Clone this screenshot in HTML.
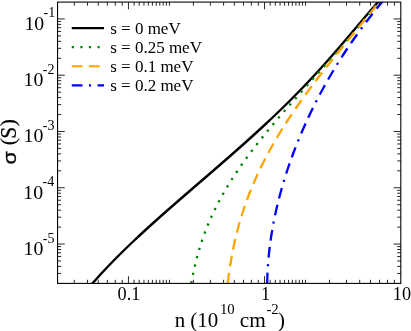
<!DOCTYPE html>
<html><head><meta charset="utf-8"><title>chart</title>
<style>html,body{margin:0;padding:0;background:#fff}svg{display:block;will-change:transform}text{font-family:"Liberation Serif",serif;fill:#000}.sans{font-family:"Liberation Sans",sans-serif}</style></head>
<body>
<svg width="411" height="331" viewBox="0 0 411 331">
<rect x="0" y="0" width="411" height="331" fill="#fff"/>
<defs><clipPath id="c"><rect x="57.55" y="2.10" width="343.25" height="281.31"/></clipPath></defs>
<g clip-path="url(#c)" fill="none" stroke-width="2.3" stroke-linejoin="round">
<path d="M86.84,290.00 L87.68,289.00 L88.53,288.00 L89.38,287.00 L90.23,286.00 L91.09,285.00 L91.96,284.00 L92.83,283.00 L93.71,282.00 L94.59,281.00 L95.48,280.00 L96.37,279.00 L97.27,278.00 L98.17,277.00 L99.07,276.00 L99.99,275.00 L100.90,274.00 L101.82,273.00 L102.75,272.00 L103.68,271.00 L104.62,270.00 L105.56,269.00 L106.50,268.00 L107.45,267.00 L108.41,266.00 L109.37,265.00 L110.33,264.00 L111.30,263.00 L112.27,262.00 L113.25,261.00 L114.23,260.00 L115.22,259.00 L116.21,258.00 L117.20,257.00 L118.20,256.00 L119.20,255.00 L120.21,254.00 L121.22,253.00 L122.24,252.00 L123.26,251.00 L124.28,250.00 L125.31,249.00 L126.34,248.00 L127.37,247.00 L128.41,246.00 L129.45,245.00 L130.50,244.00 L131.55,243.00 L132.60,242.00 L133.65,241.00 L134.71,240.00 L135.78,239.00 L136.84,238.00 L137.91,237.00 L138.99,236.00 L140.06,235.00 L141.14,234.00 L142.22,233.00 L143.31,232.00 L144.40,231.00 L145.49,230.00 L146.58,229.00 L147.68,228.00 L148.78,227.00 L149.88,226.00 L150.98,225.00 L152.09,224.00 L153.20,223.00 L154.31,222.00 L155.43,221.00 L156.55,220.00 L157.66,219.00 L158.79,218.00 L159.91,217.00 L161.04,216.00 L162.16,215.00 L163.29,214.00 L164.42,213.00 L165.56,212.00 L166.69,211.00 L167.83,210.00 L168.97,209.00 L170.11,208.00 L171.25,207.00 L172.39,206.00 L173.54,205.00 L174.68,204.00 L175.83,203.00 L176.98,202.00 L178.13,201.00 L179.28,200.00 L180.43,199.00 L181.58,198.00 L182.74,197.00 L183.89,196.00 L185.05,195.00 L186.20,194.00 L187.36,193.00 L188.52,192.00 L189.68,191.00 L190.83,190.00 L191.99,189.00 L193.15,188.00 L194.31,187.00 L195.47,186.00 L196.63,185.00 L197.79,184.00 L198.95,183.00 L200.12,182.00 L201.28,181.00 L202.44,180.00 L203.60,179.00 L204.76,178.00 L205.92,177.00 L207.08,176.00 L208.24,175.00 L209.39,174.00 L210.55,173.00 L211.71,172.00 L212.87,171.00 L214.02,170.00 L215.18,169.00 L216.33,168.00 L217.49,167.00 L218.64,166.00 L219.79,165.00 L220.95,164.00 L222.10,163.00 L223.25,162.00 L224.39,161.00 L225.54,160.00 L226.69,159.00 L227.83,158.00 L228.97,157.00 L230.12,156.00 L231.26,155.00 L232.40,154.00 L233.53,153.00 L234.67,152.00 L235.80,151.00 L236.93,150.00 L238.07,149.00 L239.19,148.00 L240.32,147.00 L241.45,146.00 L242.57,145.00 L243.69,144.00 L244.81,143.00 L245.93,142.00 L247.04,141.00 L248.16,140.00 L249.27,139.00 L250.38,138.00 L251.48,137.00 L252.59,136.00 L253.69,135.00 L254.79,134.00 L255.88,133.00 L256.98,132.00 L258.07,131.00 L259.16,130.00 L260.25,129.00 L261.33,128.00 L262.41,127.00 L263.49,126.00 L264.57,125.00 L265.64,124.00 L266.72,123.00 L267.78,122.00 L268.85,121.00 L269.91,120.00 L270.97,119.00 L272.03,118.00 L273.09,117.00 L274.14,116.00 L275.19,115.00 L276.23,114.00 L277.27,113.00 L278.31,112.00 L279.35,111.00 L280.38,110.00 L281.42,109.00 L282.44,108.00 L283.47,107.00 L284.49,106.00 L285.51,105.00 L286.52,104.00 L287.54,103.00 L288.55,102.00 L289.55,101.00 L290.56,100.00 L291.56,99.00 L292.55,98.00 L293.55,97.00 L294.54,96.00 L295.52,95.00 L296.51,94.00 L297.49,93.00 L298.47,92.00 L299.44,91.00 L300.42,90.00 L301.38,89.00 L302.35,88.00 L303.31,87.00 L304.27,86.00 L305.23,85.00 L306.18,84.00 L307.13,83.00 L308.08,82.00 L309.02,81.00 L309.97,80.00 L310.90,79.00 L311.84,78.00 L312.77,77.00 L313.70,76.00 L314.63,75.00 L315.55,74.00 L316.47,73.00 L317.39,72.00 L318.31,71.00 L319.22,70.00 L320.13,69.00 L321.04,68.00 L321.94,67.00 L322.84,66.00 L323.74,65.00 L324.64,64.00 L325.53,63.00 L326.43,62.00 L327.32,61.00 L328.20,60.00 L329.09,59.00 L329.97,58.00 L330.85,57.00 L331.73,56.00 L332.61,55.00 L333.48,54.00 L334.35,53.00 L335.22,52.00 L336.09,51.00 L336.96,50.00 L337.82,49.00 L338.69,48.00 L339.55,47.00 L340.41,46.00 L341.27,45.00 L342.12,44.00 L342.98,43.00 L343.83,42.00 L344.69,41.00 L345.54,40.00 L346.39,39.00 L347.24,38.00 L348.09,37.00 L348.94,36.00 L349.79,35.00 L350.64,34.00 L351.48,33.00 L352.33,32.00 L353.18,31.00 L354.02,30.00 L354.87,29.00 L355.72,28.00 L356.56,27.00 L357.41,26.00 L358.25,25.00 L359.10,24.00 L359.95,23.00 L360.80,22.00 L361.65,21.00 L362.50,20.00 L363.35,19.00 L364.20,18.00 L365.05,17.00 L365.91,16.00 L366.76,15.00 L367.62,14.00 L368.48,13.00 L369.34,12.00 L370.20,11.00 L371.07,10.00 L371.94,9.00 L372.81,8.00 L373.68,7.00 L374.55,6.00 L375.43,5.00 L376.31,4.00 L377.20,3.00 L378.08,2.00 L378.97,1.00 L379.87,0.00 L380.77,-1.00 L381.67,-2.00 L382.57,-3.00 L383.49,-4.00" stroke="#000" stroke-width="2.4"/>
<path d="M189.97,290.00 L190.15,289.00 L190.34,288.00 L190.52,287.00 L190.70,286.00 L190.89,285.00 L191.08,284.00 L191.27,283.00 L191.46,282.00 L191.65,281.00 L191.85,280.00 L192.04,279.00 L192.24,278.00 L192.45,277.00 L192.65,276.00 L192.86,275.00 L193.07,274.00 L193.28,273.00 L193.50,272.00 L193.72,271.00 L193.94,270.00 L194.16,269.00 L194.39,268.00 L194.62,267.00 L194.85,266.00 L195.09,265.00 L195.33,264.00 L195.57,263.00 L195.82,262.00 L196.07,261.00 L196.33,260.00 L196.58,259.00 L196.85,258.00 L197.11,257.00 L197.38,256.00 L197.65,255.00 L197.93,254.00 L198.21,253.00 L198.50,252.00 L198.79,251.00 L199.08,250.00 L199.38,249.00 L199.68,248.00 L199.99,247.00 L200.30,246.00 L200.61,245.00 L200.93,244.00 L201.25,243.00 L201.58,242.00 L201.91,241.00 L202.25,240.00 L202.59,239.00 L202.94,238.00 L203.29,237.00 L203.64,236.00 L204.01,235.00 L204.37,234.00 L204.74,233.00 L205.11,232.00 L205.49,231.00 L205.88,230.00 L206.27,229.00 L206.66,228.00 L207.06,227.00 L207.46,226.00 L207.87,225.00 L208.28,224.00 L208.70,223.00 L209.13,222.00 L209.55,221.00 L209.99,220.00 L210.43,219.00 L210.87,218.00 L211.32,217.00 L211.77,216.00 L212.23,215.00 L212.69,214.00 L213.16,213.00 L213.63,212.00 L214.11,211.00 L214.60,210.00 L215.08,209.00 L215.58,208.00 L216.08,207.00 L216.58,206.00 L217.09,205.00 L217.60,204.00 L218.12,203.00 L218.65,202.00 L219.18,201.00 L219.71,200.00 L220.25,199.00 L220.79,198.00 L221.34,197.00 L221.90,196.00 L222.46,195.00 L223.02,194.00 L223.59,193.00 L224.16,192.00 L224.74,191.00 L225.33,190.00 L225.92,189.00 L226.51,188.00 L227.11,187.00 L227.71,186.00 L228.32,185.00 L228.93,184.00 L229.55,183.00 L230.17,182.00 L230.80,181.00 L231.43,180.00 L232.07,179.00 L232.71,178.00 L233.36,177.00 L234.01,176.00 L234.66,175.00 L235.32,174.00 L235.99,173.00 L236.66,172.00 L237.33,171.00 L238.01,170.00 L238.69,169.00 L239.38,168.00 L240.07,167.00 L240.76,166.00 L241.46,165.00 L242.16,164.00 L242.87,163.00 L243.59,162.00 L244.30,161.00 L245.02,160.00 L245.75,159.00 L246.47,158.00 L247.21,157.00 L247.94,156.00 L248.68,155.00 L249.43,154.00 L250.18,153.00 L250.93,152.00 L251.68,151.00 L252.44,150.00 L253.21,149.00 L253.97,148.00 L254.74,147.00 L255.52,146.00 L256.30,145.00 L257.08,144.00 L257.86,143.00 L258.65,142.00 L259.44,141.00 L260.23,140.00 L261.03,139.00 L261.83,138.00 L262.64,137.00 L263.44,136.00 L264.25,135.00 L265.07,134.00 L265.88,133.00 L266.70,132.00 L267.52,131.00 L268.35,130.00 L269.18,129.00 L270.01,128.00 L270.84,127.00 L271.67,126.00 L272.51,125.00 L273.35,124.00 L274.19,123.00 L275.04,122.00 L275.89,121.00 L276.74,120.00 L277.59,119.00 L278.44,118.00 L279.30,117.00 L280.16,116.00 L281.02,115.00 L281.88,114.00 L282.75,113.00 L283.61,112.00 L284.48,111.00 L285.35,110.00 L286.22,109.00 L287.10,108.00 L287.97,107.00 L288.85,106.00 L289.73,105.00 L290.60,104.00 L291.49,103.00 L292.37,102.00 L293.25,101.00 L294.14,100.00 L295.02,99.00 L295.91,98.00 L296.80,97.00 L297.69,96.00 L298.58,95.00 L299.47,94.00 L300.36,93.00 L301.25,92.00 L302.14,91.00 L303.04,90.00 L303.93,89.00 L304.83,88.00 L305.72,87.00 L306.62,86.00 L307.51,85.00 L308.41,84.00 L309.31,83.00 L310.20,82.00 L311.10,81.00 L312.00,80.00 L312.90,79.00 L313.79,78.00 L314.69,77.00 L315.59,76.00 L316.49,75.00 L317.38,74.00 L318.28,73.00 L319.18,72.00 L320.07,71.00 L320.97,70.00 L321.86,69.00 L322.76,68.00 L323.65,67.00 L324.54,66.00 L325.44,65.00 L326.33,64.00 L327.22,63.00 L328.11,62.00 L329.00,61.00 L329.89,60.00 L330.77,59.00 L331.66,58.00 L332.55,57.00 L333.43,56.00 L334.31,55.00 L335.19,54.00 L336.07,53.00 L336.95,52.00 L337.83,51.00 L338.71,50.00 L339.58,49.00 L340.45,48.00 L341.32,47.00 L342.19,46.00 L343.06,45.00 L343.93,44.00 L344.79,43.00 L345.65,42.00 L346.51,41.00 L347.37,40.00 L348.23,39.00 L349.08,38.00 L349.94,37.00 L350.79,36.00 L351.64,35.00 L352.48,34.00 L353.33,33.00 L354.17,32.00 L355.01,31.00 L355.84,30.00 L356.68,29.00 L357.51,28.00 L358.34,27.00 L359.17,26.00 L359.99,25.00 L360.81,24.00 L361.63,23.00 L362.45,22.00 L363.26,21.00 L364.08,20.00 L364.88,19.00 L365.69,18.00 L366.49,17.00 L367.29,16.00 L368.09,15.00 L368.88,14.00 L369.67,13.00 L370.46,12.00 L371.25,11.00 L372.03,10.00 L372.81,9.00 L373.59,8.00 L374.36,7.00 L375.13,6.00 L375.89,5.00 L376.66,4.00 L377.42,3.00 L378.17,2.00 L378.93,1.00 L379.68,0.00 L380.42,-1.00 L381.17,-2.00 L381.91,-3.00 L382.64,-4.00" stroke="#008200" stroke-dasharray="2.3 6.3" stroke-dashoffset="1.95"/>
<path d="M226.94,290.00 L227.05,289.00 L227.16,288.00 L227.27,287.00 L227.39,286.00 L227.50,285.00 L227.62,284.00 L227.74,283.00 L227.86,282.00 L227.99,281.00 L228.11,280.00 L228.24,279.00 L228.37,278.00 L228.50,277.00 L228.64,276.00 L228.77,275.00 L228.91,274.00 L229.05,273.00 L229.20,272.00 L229.34,271.00 L229.49,270.00 L229.64,269.00 L229.79,268.00 L229.94,267.00 L230.10,266.00 L230.26,265.00 L230.42,264.00 L230.58,263.00 L230.75,262.00 L230.92,261.00 L231.09,260.00 L231.26,259.00 L231.44,258.00 L231.62,257.00 L231.80,256.00 L231.99,255.00 L232.18,254.00 L232.37,253.00 L232.56,252.00 L232.75,251.00 L232.95,250.00 L233.16,249.00 L233.36,248.00 L233.57,247.00 L233.78,246.00 L233.99,245.00 L234.21,244.00 L234.43,243.00 L234.65,242.00 L234.87,241.00 L235.10,240.00 L235.33,239.00 L235.57,238.00 L235.80,237.00 L236.05,236.00 L236.29,235.00 L236.54,234.00 L236.79,233.00 L237.04,232.00 L237.30,231.00 L237.56,230.00 L237.82,229.00 L238.09,228.00 L238.36,227.00 L238.63,226.00 L238.91,225.00 L239.19,224.00 L239.47,223.00 L239.76,222.00 L240.05,221.00 L240.34,220.00 L240.64,219.00 L240.94,218.00 L241.24,217.00 L241.55,216.00 L241.86,215.00 L242.17,214.00 L242.49,213.00 L242.81,212.00 L243.14,211.00 L243.46,210.00 L243.80,209.00 L244.13,208.00 L244.47,207.00 L244.81,206.00 L245.16,205.00 L245.51,204.00 L245.86,203.00 L246.22,202.00 L246.58,201.00 L246.94,200.00 L247.31,199.00 L247.68,198.00 L248.06,197.00 L248.44,196.00 L248.82,195.00 L249.20,194.00 L249.59,193.00 L249.99,192.00 L250.38,191.00 L250.79,190.00 L251.19,189.00 L251.60,188.00 L252.01,187.00 L252.43,186.00 L252.85,185.00 L253.27,184.00 L253.70,183.00 L254.13,182.00 L254.56,181.00 L255.00,180.00 L255.44,179.00 L255.89,178.00 L256.33,177.00 L256.79,176.00 L257.24,175.00 L257.70,174.00 L258.17,173.00 L258.64,172.00 L259.11,171.00 L259.58,170.00 L260.06,169.00 L260.55,168.00 L261.03,167.00 L261.52,166.00 L262.02,165.00 L262.51,164.00 L263.01,163.00 L263.52,162.00 L264.03,161.00 L264.54,160.00 L265.06,159.00 L265.58,158.00 L266.10,157.00 L266.63,156.00 L267.16,155.00 L267.69,154.00 L268.23,153.00 L268.77,152.00 L269.32,151.00 L269.86,150.00 L270.42,149.00 L270.97,148.00 L271.53,147.00 L272.10,146.00 L272.66,145.00 L273.23,144.00 L273.81,143.00 L274.38,142.00 L274.96,141.00 L275.55,140.00 L276.14,139.00 L276.73,138.00 L277.32,137.00 L277.92,136.00 L278.52,135.00 L279.13,134.00 L279.74,133.00 L280.35,132.00 L280.96,131.00 L281.58,130.00 L282.20,129.00 L282.83,128.00 L283.46,127.00 L284.09,126.00 L284.73,125.00 L285.36,124.00 L286.01,123.00 L286.65,122.00 L287.30,121.00 L287.95,120.00 L288.61,119.00 L289.26,118.00 L289.92,117.00 L290.59,116.00 L291.26,115.00 L291.93,114.00 L292.60,113.00 L293.28,112.00 L293.96,111.00 L294.64,110.00 L295.32,109.00 L296.01,108.00 L296.70,107.00 L297.40,106.00 L298.09,105.00 L298.79,104.00 L299.50,103.00 L300.20,102.00 L300.91,101.00 L301.62,100.00 L302.34,99.00 L303.05,98.00 L303.77,97.00 L304.49,96.00 L305.22,95.00 L305.95,94.00 L306.68,93.00 L307.41,92.00 L308.14,91.00 L308.88,90.00 L309.62,89.00 L310.36,88.00 L311.11,87.00 L311.85,86.00 L312.60,85.00 L313.35,84.00 L314.11,83.00 L314.87,82.00 L315.62,81.00 L316.38,80.00 L317.15,79.00 L317.91,78.00 L318.68,77.00 L319.45,76.00 L320.22,75.00 L320.99,74.00 L321.77,73.00 L322.54,72.00 L323.32,71.00 L324.10,70.00 L324.89,69.00 L325.67,68.00 L326.46,67.00 L327.25,66.00 L328.03,65.00 L328.83,64.00 L329.62,63.00 L330.41,62.00 L331.21,61.00 L332.01,60.00 L332.81,59.00 L333.61,58.00 L334.41,57.00 L335.21,56.00 L336.01,55.00 L336.82,54.00 L337.63,53.00 L338.43,52.00 L339.24,51.00 L340.05,50.00 L340.86,49.00 L341.68,48.00 L342.49,47.00 L343.30,46.00 L344.12,45.00 L344.93,44.00 L345.75,43.00 L346.57,42.00 L347.39,41.00 L348.20,40.00 L349.02,39.00 L349.84,38.00 L350.66,37.00 L351.48,36.00 L352.31,35.00 L353.13,34.00 L353.95,33.00 L354.77,32.00 L355.59,31.00 L356.42,30.00 L357.24,29.00 L358.06,28.00 L358.88,27.00 L359.71,26.00 L360.53,25.00 L361.35,24.00 L362.18,23.00 L363.00,22.00 L363.82,21.00 L364.64,20.00 L365.46,19.00 L366.28,18.00 L367.10,17.00 L367.92,16.00 L368.74,15.00 L369.56,14.00 L370.38,13.00 L371.20,12.00 L372.01,11.00 L372.83,10.00 L373.65,9.00 L374.46,8.00 L375.27,7.00 L376.08,6.00 L376.89,5.00 L377.70,4.00 L378.51,3.00 L379.32,2.00 L380.12,1.00 L380.93,0.00 L381.73,-1.00 L382.53,-2.00 L383.33,-3.00 L384.13,-4.00" stroke="#ffa500" stroke-dasharray="10.75 6.45" stroke-dashoffset="10.55"/>
<path d="M267.21,290.00 L267.21,289.00 L267.20,288.00 L267.20,287.00 L267.20,286.00 L267.21,285.00 L267.22,284.00 L267.23,283.00 L267.25,282.00 L267.26,281.00 L267.29,280.00 L267.31,279.00 L267.34,278.00 L267.37,277.00 L267.40,276.00 L267.44,275.00 L267.48,274.00 L267.53,273.00 L267.57,272.00 L267.62,271.00 L267.68,270.00 L267.73,269.00 L267.79,268.00 L267.85,267.00 L267.92,266.00 L267.99,265.00 L268.06,264.00 L268.13,263.00 L268.21,262.00 L268.29,261.00 L268.38,260.00 L268.46,259.00 L268.55,258.00 L268.64,257.00 L268.74,256.00 L268.84,255.00 L268.94,254.00 L269.04,253.00 L269.15,252.00 L269.26,251.00 L269.38,250.00 L269.49,249.00 L269.61,248.00 L269.73,247.00 L269.86,246.00 L269.98,245.00 L270.12,244.00 L270.25,243.00 L270.39,242.00 L270.52,241.00 L270.67,240.00 L270.81,239.00 L270.96,238.00 L271.11,237.00 L271.26,236.00 L271.42,235.00 L271.58,234.00 L271.74,233.00 L271.90,232.00 L272.07,231.00 L272.24,230.00 L272.42,229.00 L272.59,228.00 L272.77,227.00 L272.95,226.00 L273.13,225.00 L273.32,224.00 L273.51,223.00 L273.70,222.00 L273.90,221.00 L274.10,220.00 L274.30,219.00 L274.50,218.00 L274.71,217.00 L274.91,216.00 L275.13,215.00 L275.34,214.00 L275.56,213.00 L275.78,212.00 L276.00,211.00 L276.22,210.00 L276.45,209.00 L276.68,208.00 L276.91,207.00 L277.15,206.00 L277.39,205.00 L277.63,204.00 L277.87,203.00 L278.12,202.00 L278.37,201.00 L278.62,200.00 L278.87,199.00 L279.13,198.00 L279.39,197.00 L279.65,196.00 L279.91,195.00 L280.18,194.00 L280.45,193.00 L280.72,192.00 L281.00,191.00 L281.28,190.00 L281.56,189.00 L281.84,188.00 L282.13,187.00 L282.41,186.00 L282.70,185.00 L283.00,184.00 L283.29,183.00 L283.59,182.00 L283.89,181.00 L284.20,180.00 L284.50,179.00 L284.81,178.00 L285.12,177.00 L285.44,176.00 L285.76,175.00 L286.08,174.00 L286.40,173.00 L286.72,172.00 L287.05,171.00 L287.38,170.00 L287.71,169.00 L288.05,168.00 L288.38,167.00 L288.72,166.00 L289.07,165.00 L289.41,164.00 L289.76,163.00 L290.11,162.00 L290.46,161.00 L290.82,160.00 L291.18,159.00 L291.54,158.00 L291.90,157.00 L292.27,156.00 L292.64,155.00 L293.01,154.00 L293.38,153.00 L293.76,152.00 L294.14,151.00 L294.52,150.00 L294.90,149.00 L295.29,148.00 L295.68,147.00 L296.07,146.00 L296.46,145.00 L296.86,144.00 L297.26,143.00 L297.66,142.00 L298.07,141.00 L298.48,140.00 L298.89,139.00 L299.30,138.00 L299.71,137.00 L300.13,136.00 L300.55,135.00 L300.98,134.00 L301.40,133.00 L301.83,132.00 L302.26,131.00 L302.69,130.00 L303.13,129.00 L303.57,128.00 L304.01,127.00 L304.46,126.00 L304.90,125.00 L305.35,124.00 L305.80,123.00 L306.26,122.00 L306.72,121.00 L307.18,120.00 L307.64,119.00 L308.11,118.00 L308.57,117.00 L309.05,116.00 L309.52,115.00 L310.00,114.00 L310.47,113.00 L310.96,112.00 L311.44,111.00 L311.93,110.00 L312.42,109.00 L312.91,108.00 L313.41,107.00 L313.90,106.00 L314.40,105.00 L314.91,104.00 L315.41,103.00 L315.92,102.00 L316.44,101.00 L316.95,100.00 L317.47,99.00 L317.99,98.00 L318.51,97.00 L319.04,96.00 L319.56,95.00 L320.10,94.00 L320.63,93.00 L321.17,92.00 L321.71,91.00 L322.25,90.00 L322.79,89.00 L323.34,88.00 L323.89,87.00 L324.45,86.00 L325.00,85.00 L325.56,84.00 L326.13,83.00 L326.69,82.00 L327.26,81.00 L327.83,80.00 L328.40,79.00 L328.98,78.00 L329.56,77.00 L330.14,76.00 L330.73,75.00 L331.32,74.00 L331.91,73.00 L332.50,72.00 L333.10,71.00 L333.70,70.00 L334.31,69.00 L334.91,68.00 L335.52,67.00 L336.13,66.00 L336.75,65.00 L337.37,64.00 L337.99,63.00 L338.61,62.00 L339.24,61.00 L339.87,60.00 L340.51,59.00 L341.14,58.00 L341.78,57.00 L342.42,56.00 L343.07,55.00 L343.72,54.00 L344.37,53.00 L345.03,52.00 L345.69,51.00 L346.35,50.00 L347.01,49.00 L347.68,48.00 L348.35,47.00 L349.03,46.00 L349.70,45.00 L350.38,44.00 L351.07,43.00 L351.76,42.00 L352.45,41.00 L353.14,40.00 L353.84,39.00 L354.54,38.00 L355.24,37.00 L355.95,36.00 L356.66,35.00 L357.37,34.00 L358.09,33.00 L358.81,32.00 L359.53,31.00 L360.26,30.00 L360.99,29.00 L361.72,28.00 L362.46,27.00 L363.20,26.00 L363.94,25.00 L364.69,24.00 L365.44,23.00 L366.20,22.00 L366.96,21.00 L367.72,20.00 L368.48,19.00 L369.25,18.00 L370.02,17.00 L370.80,16.00 L371.58,15.00 L372.36,14.00 L373.14,13.00 L373.93,12.00 L374.73,11.00 L375.52,10.00 L376.33,9.00 L377.13,8.00 L377.94,7.00 L378.75,6.00 L379.56,5.00 L380.38,4.00 L381.21,3.00 L382.03,2.00 L382.86,1.00 L383.70,0.00 L384.53,-1.00 L385.38,-2.00 L386.22,-3.00 L387.07,-4.00" stroke="#0000ff" stroke-dasharray="10.75 6.45 2.15 6.45 10.75 6.45" stroke-dashoffset="36.4"/>
</g>
<path d="M128.45,283.41v-7.2M128.45,2.10v7.2M264.55,283.41v-7.2M264.55,2.10v7.2M74.29,283.41v-3.6M74.29,2.10v3.6M87.48,283.41v-3.6M87.48,2.10v3.6M98.26,283.41v-3.6M98.26,2.10v3.6M107.37,283.41v-3.6M107.37,2.10v3.6M115.26,283.41v-3.6M115.26,2.10v3.6M122.22,283.41v-3.6M122.22,2.10v3.6M134.08,283.41v-3.6M134.08,2.10v3.6M139.23,283.41v-3.6M139.23,2.10v3.6M143.96,283.41v-3.6M143.96,2.10v3.6M148.34,283.41v-3.6M148.34,2.10v3.6M152.42,283.41v-3.6M152.42,2.10v3.6M156.23,283.41v-3.6M156.23,2.10v3.6M159.81,283.41v-3.6M159.81,2.10v3.6M163.19,283.41v-3.6M163.19,2.10v3.6M166.39,283.41v-3.6M166.39,2.10v3.6M169.42,283.41v-3.6M169.42,2.10v3.6M193.39,283.41v-3.6M193.39,2.10v3.6M210.39,283.41v-3.6M210.39,2.10v3.6M223.58,283.41v-3.6M223.58,2.10v3.6M234.36,283.41v-3.6M234.36,2.10v3.6M243.47,283.41v-3.6M243.47,2.10v3.6M251.36,283.41v-3.6M251.36,2.10v3.6M258.32,283.41v-3.6M258.32,2.10v3.6M270.18,283.41v-3.6M270.18,2.10v3.6M275.33,283.41v-3.6M275.33,2.10v3.6M280.06,283.41v-3.6M280.06,2.10v3.6M284.44,283.41v-3.6M284.44,2.10v3.6M288.52,283.41v-3.6M288.52,2.10v3.6M292.33,283.41v-3.6M292.33,2.10v3.6M295.91,283.41v-3.6M295.91,2.10v3.6M299.29,283.41v-3.6M299.29,2.10v3.6M302.49,283.41v-3.6M302.49,2.10v3.6M305.52,283.41v-3.6M305.52,2.10v3.6M329.49,283.41v-3.6M329.49,2.10v3.6M346.49,283.41v-3.6M346.49,2.10v3.6M359.68,283.41v-3.6M359.68,2.10v3.6M370.46,283.41v-3.6M370.46,2.10v3.6M379.57,283.41v-3.6M379.57,2.10v3.6M387.46,283.41v-3.6M387.46,2.10v3.6M394.42,283.41v-3.6M394.42,2.10v3.6M57.55,18.95h7.2M400.80,18.95h-7.2M57.55,75.22h7.2M400.80,75.22h-7.2M57.55,131.49h7.2M400.80,131.49h-7.2M57.55,187.76h7.2M400.80,187.76h-7.2M57.55,244.03h7.2M400.80,244.03h-7.2M57.55,58.28h3.6M400.80,58.28h-3.6M57.55,48.37h3.6M400.80,48.37h-3.6M57.55,41.34h3.6M400.80,41.34h-3.6M57.55,35.89h3.6M400.80,35.89h-3.6M57.55,31.43h3.6M400.80,31.43h-3.6M57.55,27.67h3.6M400.80,27.67h-3.6M57.55,24.40h3.6M400.80,24.40h-3.6M57.55,21.52h3.6M400.80,21.52h-3.6M57.55,114.55h3.6M400.80,114.55h-3.6M57.55,104.64h3.6M400.80,104.64h-3.6M57.55,97.61h3.6M400.80,97.61h-3.6M57.55,92.16h3.6M400.80,92.16h-3.6M57.55,87.70h3.6M400.80,87.70h-3.6M57.55,83.94h3.6M400.80,83.94h-3.6M57.55,80.67h3.6M400.80,80.67h-3.6M57.55,77.79h3.6M400.80,77.79h-3.6M57.55,170.82h3.6M400.80,170.82h-3.6M57.55,160.91h3.6M400.80,160.91h-3.6M57.55,153.88h3.6M400.80,153.88h-3.6M57.55,148.43h3.6M400.80,148.43h-3.6M57.55,143.97h3.6M400.80,143.97h-3.6M57.55,140.21h3.6M400.80,140.21h-3.6M57.55,136.94h3.6M400.80,136.94h-3.6M57.55,134.06h3.6M400.80,134.06h-3.6M57.55,227.09h3.6M400.80,227.09h-3.6M57.55,217.18h3.6M400.80,217.18h-3.6M57.55,210.15h3.6M400.80,210.15h-3.6M57.55,204.70h3.6M400.80,204.70h-3.6M57.55,200.24h3.6M400.80,200.24h-3.6M57.55,196.48h3.6M400.80,196.48h-3.6M57.55,193.21h3.6M400.80,193.21h-3.6M57.55,190.33h3.6M400.80,190.33h-3.6M57.55,273.45h3.6M400.80,273.45h-3.6M57.55,266.42h3.6M400.80,266.42h-3.6M57.55,260.97h3.6M400.80,260.97h-3.6M57.55,256.51h3.6M400.80,256.51h-3.6M57.55,252.75h3.6M400.80,252.75h-3.6M57.55,249.48h3.6M400.80,249.48h-3.6M57.55,246.60h3.6M400.80,246.60h-3.6" stroke="#000" stroke-width="0.85" fill="none"/>
<rect x="57.55" y="2.10" width="343.25" height="281.31" fill="none" stroke="#000" stroke-width="1.08"/>
<g fill="none" stroke-width="2.15">
<path d="M71.75,28.05H104.0" stroke="#000"/>
<path d="M71.75,47.15H104.0" stroke="#008200" stroke-dasharray="2.15 6.45"/>
<path d="M71.75,66.25H104.0" stroke="#ffa500" stroke-dasharray="10.75 6.45"/>
<path d="M71.75,85.35H104.0" stroke="#0000ff" stroke-dasharray="10.75 6.45 2.15 6.45 10.75 6.45"/>
</g>
<text x="110.2" y="34.1" font-size="17.0">s = 0 meV</text>
<text x="110.2" y="53.2" font-size="17.0">s = 0.25 meV</text>
<text x="110.2" y="72.3" font-size="17.0">s = 0.1 meV</text>
<text x="110.2" y="91.4" font-size="17.0">s = 0.2 meV</text>
<text x="24.40" y="29.65" font-size="19.8">10<tspan x="43.60" font-size="14.0" dy="-12.40">-1</tspan></text>
<text x="23.55" y="85.92" font-size="19.8">10<tspan x="42.75" font-size="14.0" dy="-12.40">-2</tspan></text>
<text x="23.55" y="142.19" font-size="19.8">10<tspan x="42.75" font-size="14.0" dy="-12.40">-3</tspan></text>
<text x="23.30" y="198.61" font-size="19.8">10<tspan x="42.50" font-size="14.0" dy="-12.25">-4</tspan></text>
<text x="23.55" y="255.03" font-size="19.8">10<tspan x="42.75" font-size="14.0" dy="-12.10">-5</tspan></text>
<text x="129.0" y="299.7" font-size="18.3" text-anchor="middle">0.1</text>
<text x="265.5" y="299.7" font-size="18.3" text-anchor="middle">1</text>
<text x="402.0" y="299.7" font-size="18.3" text-anchor="middle">10</text>
<text x="174.7" y="326.5" font-size="20.9">n (10</text>
<text x="219.9" y="313.8" font-size="14.8">10</text>
<text x="239.8" y="326.5" font-size="21.3">cm</text>
<text x="266.4" y="313.8" font-size="14.8">-2</text>
<text x="278.1" y="326.5" font-size="20.9">)</text>
<text class="sans" transform="translate(15.90,164.50) rotate(-90) scale(1.02,0.9)" font-size="21.3" stroke="#000" stroke-width="0.35">σ</text>
<text  transform="translate(15.26,145.20) rotate(-90) scale(1,0.95)" font-size="21.5" stroke="#000" stroke-width="0.2">(</text>
<text  transform="translate(16.05,138.80) rotate(-90) scale(1,1.07)" font-size="21.5" stroke="#000" stroke-width="0.2">S</text>
<text  transform="translate(15.26,126.20) rotate(-90) scale(1,0.95)" font-size="21.5" stroke="#000" stroke-width="0.2">)</text>
</svg>
</body></html>
